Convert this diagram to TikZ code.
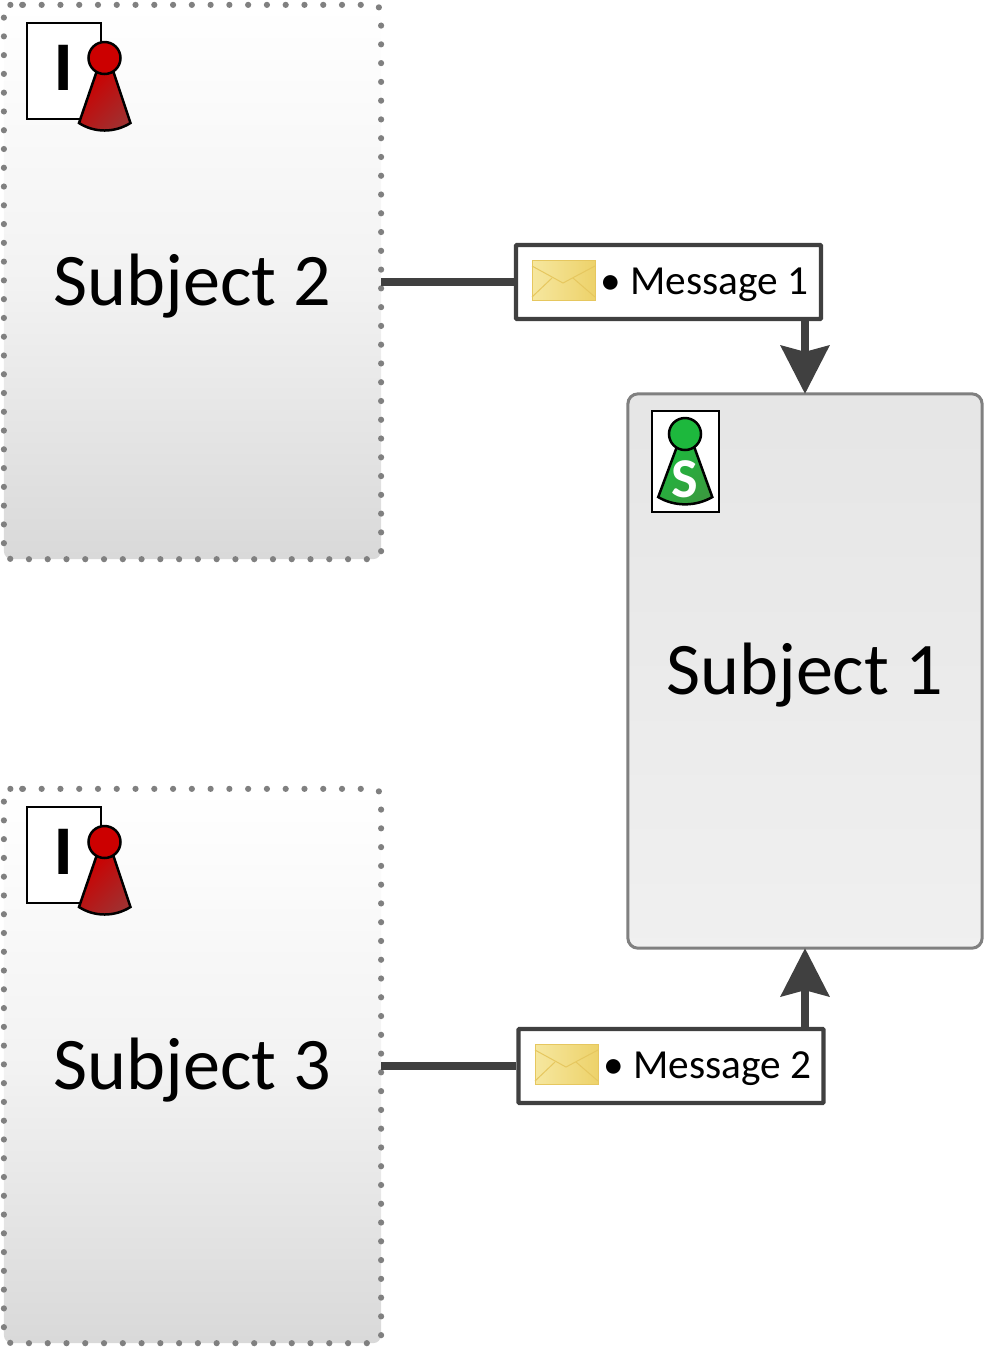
\documentclass[tikz,border=0pt]{standalone}
\usepackage{fontspec}
\setmainfont{Carlito}
\newfontfamily\letterfont{Liberation Sans}[Scale=1]
\usetikzlibrary{arrows.meta}
\definecolor{linedark}{HTML}{404040}
\definecolor{borderg}{HTML}{808080}
\definecolor{envleft}{HTML}{F6E79F}
\definecolor{envright}{HTML}{EDD26A}
\definecolor{envline}{HTML}{E6C75F}
\definecolor{pawnredA}{HTML}{CC0000}
\definecolor{pawnredB}{HTML}{A03030}
\definecolor{pawngreenA}{HTML}{1DB83D}
\definecolor{pawngreenB}{HTML}{3A9A3F}
\tikzset{
	subjdot/.style={minimum width=37.7mm, minimum height=55.4mm, inner sep=0, outer sep=0, rounded corners=0.8mm,
		top color=white, bottom color=black!15, middle color=black!5, text depth=1.2pt, font=\fontsize{21.1pt}{25pt}\selectfont},
	dotline/.style={draw=borderg, line width=0.62mm, line cap=round, rounded corners=0.8mm, dash pattern=on 0pt off 1.876mm},
	subjsolid/.style={minimum width=35.4mm, minimum height=55.4mm, inner sep=0, outer sep=0, rounded corners=1mm,
		draw=borderg, line width=0.3mm, top color=black!10, bottom color=black!6, text depth=1.2pt, font=\fontsize{21.1pt}{25pt}\selectfont},
	msgbox/.style={minimum width=30.5mm, minimum height=7.4mm, inner sep=0, draw=linedark, line width=0.42mm, fill=white, rounded corners=0.1mm},
	msgtext/.style={inner sep=0, anchor=base west, font=\fontsize{11.75pt}{14pt}\selectfont},
	conn/.style={draw=linedark, line width=0.75mm},
	connarrow/.style={draw=linedark, line width=0.82mm, -{Stealth[length=4.8mm, width=4.8mm, inset=0.6mm]}},
	iconbox/.style={draw=black, line width=0.28mm, fill=white, inner sep=0, outer sep=0},
	redpawn/.style={left color=pawnredA, right color=pawnredB, shading angle=45},
	greenpawn/.style={left color=pawngreenA, right color=pawngreenB, shading angle=45, xscale=1.05, yscale=0.97},
}
% pawn figure, origin in the middle of its head
\def\pawnfig[#1](#2)#3{
	\draw[black, line width=0.25mm, shift={(#2)}, #1] (-8, 14) -- (-25.5, 65) .. controls (-10, 75) and (10, 75) .. (26, 65) -- (9, 14) -- cycle;
	\draw[black, line width=0.25mm, fill=#3, shift={(#2)}] (0, 0) circle (16);
}
% envelope, origin in its top left corner
\def\envelope(#1){
	\begin{scope}[shift={(#1)}, draw=envline, line width=0.1mm]
		\draw[left color=envleft, right color=envright] (0, 0) rectangle (63, 40);
		\draw (0, 6) -- (31, 23) -- (63, 6);
		\draw (0, 37) -- (20, 18);
		\draw (63, 37) -- (41, 18);
	\end{scope}
}
% dotted border round a node, first dot just after its top left corner
\def\dotborder(#1){
	\draw[dotline] ([xshift=1.1mm]#1.north west) -- (#1.north east) -- (#1.south east) -- (#1.south west) -- (#1.north west) -- cycle;
}
\begin{document}
\begin{tikzpicture}[x=0.01cm, y=-0.01cm]
	%%%%% START %%%%%
	\useasboundingbox (0, 0) rectangle (984, 1347);
	
	\node[subjdot] (subjB) at (192.5, 282) {Subject 2};
	\dotborder(subjB)
	\node[subjdot] (subjC) at (192.5, 1066) {Subject 3};
	\dotborder(subjC)
	\node[subjsolid] (subjA) at (805, 671) {Subject 1};
	
	\node[iconbox, minimum width=7.4mm, minimum height=9.6mm] (ifaceB) at (64, 71) {};
	\node[inner sep=0, font=\letterfont\bfseries\fontsize{18.7pt}{20pt}\selectfont] (ifaceBlet) at (63.5, 68) {I};
	\pawnfig[redpawn](104.5, 58){pawnredA}
	\node[iconbox, minimum width=7.4mm, minimum height=9.6mm] (ifaceC) at (64, 855) {};
	\node[inner sep=0, font=\letterfont\bfseries\fontsize{18.7pt}{20pt}\selectfont] (ifaceClet) at (63.5, 852) {I};
	\pawnfig[redpawn](104.5, 842){pawnredA}
	
	\node[iconbox, minimum width=6.7mm, minimum height=10.1mm] (startA) at (685.5, 461.5) {};
	\pawnfig[greenpawn](685, 434){pawngreenA}
	\node[inner sep=0, text=white, font=\bfseries\fontsize{16pt}{18pt}\selectfont] (startAlet) at (685, 479) {S};
	
	\node[msgbox] (msgA) at (668.5, 282) {};
	\envelope(532, 260)
	\node[msgtext] (msgAtxt) at (600, 294.5) {\textbullet\ Message 1};
	\node[msgbox] (msgB) at (671, 1066) {};
	\envelope(535, 1044)
	\node[msgtext] (msgBtxt) at (603, 1078.5) {\textbullet\ Message 2};
	
	\draw[conn] (subjB.east |- msgA.west) -- (msgA.west);
	\draw[conn] (subjC.east |- msgB.west) -- (msgB.west);
	\draw[connarrow] (msgA.south -| subjA.north) -- (subjA.north);
	\draw[connarrow] (msgB.north -| subjA.south) -- (subjA.south);
	
	%%%%% END %%%%%
\end{tikzpicture}
\end{document}
